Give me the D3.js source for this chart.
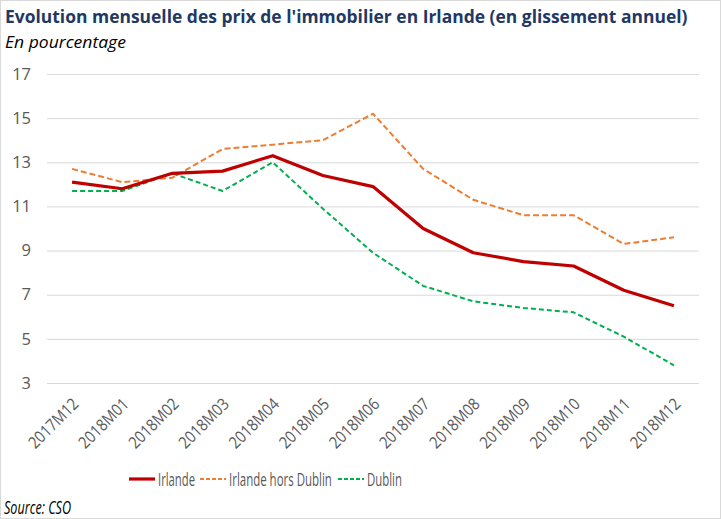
<!DOCTYPE html>
<html><head><meta charset="utf-8">
<script src="https://cdn.jsdelivr.net/npm/d3@7"></script>
<style>body{margin:0;background:#fff}svg{display:block}</style>
</head><body>
<svg id="c" width="721" height="519"></svg>
<script>
const categories = ["2017M12","2018M01","2018M02","2018M03","2018M04","2018M05","2018M06","2018M07","2018M08","2018M09","2018M10","2018M11","2018M12"];
const irlande = [12.1,11.8,12.5,12.6,13.3,12.4,11.9,10.0,8.9,8.5,8.3,7.2,6.5];
const horsDublin = [12.7,12.1,12.3,13.6,13.8,14.0,15.2,12.7,11.3,10.6,10.6,9.3,9.6];
const dublin = [11.7,11.7,12.5,11.7,13.0,10.9,8.9,7.4,6.7,6.4,6.2,5.1,3.8];
const yTicks = [3,5,7,9,11,13,15,17];
const seriesNames = ["Irlande","Irlande hors Dublin","Dublin"];

const svg = d3.select("#c");
const F = "'Open Sans', sans-serif";
svg.append("rect").attr("x",0.5).attr("y",0.5).attr("width",720).attr("height",518)
  .attr("fill","#fff").attr("stroke","#d9d9d9");

// place start-anchored text at (x,y) squeezed horizontally to width w
function fitText(t, x, y, w){
  const n = t.node().getComputedTextLength();
  t.attr("x",0).attr("y",0).attr("transform",`translate(${x},${y}) scale(${w/n},1)`);
  return t;
}

fitText(svg.append("text").attr("font-family",F)
  .attr("font-weight","bold").attr("font-size",18).attr("fill","#1f3864")
  .text("Evolution mensuelle des prix de l'immobilier en Irlande (en glissement annuel)"), 5, 23, 683);
fitText(svg.append("text").attr("font-family",F)
  .attr("font-style","italic").attr("font-size",17).attr("fill","#000")
  .text("En pourcentage"), 5, 48, 121);

const x = d3.scalePoint().domain(categories).range([47,699]).padding(0.5);
const y = d3.scaleLinear().domain([3,17]).range([383,74]);

const gy = svg.append("g").attr("transform","translate(47,0)")
  .call(d3.axisLeft(y).tickValues(yTicks).tickSize(-652).tickPadding(16));
gy.select(".domain").remove();
gy.selectAll(".tick line").attr("stroke","#d9d9d9").attr("stroke-width",1);
gy.selectAll(".tick text").attr("font-family",F).attr("font-size",16.5)
  .attr("fill","#595959");

const gx = svg.append("g").attr("transform","translate(0,383)")
  .call(d3.axisBottom(x).tickSize(0).tickPadding(0));
gx.select(".domain").remove();
gx.selectAll(".tick text").attr("font-family",F).attr("font-size",16.5)
  .attr("fill","#595959").attr("text-anchor","end").attr("y",0).attr("dy","0.35em")
  .each(function(){
    const n = this.getComputedTextLength();
    d3.select(this).attr("transform",`translate(3,18) rotate(-45) scale(${63/n},1)`);
  });

const line = d3.line().x((d,i)=>x(categories[i])).y(d=>y(d));
const styles = [
  {data:irlande,color:"#c00000",w:3.2,dash:null},
  {data:horsDublin,color:"#ed7d31",w:2,dash:"6,3"},
  {data:dublin,color:"#00b050",w:2,dash:"5,3"}
];
[styles[1],styles[2],styles[0]].forEach(s=>{
  svg.append("path").attr("d",line(s.data)).attr("fill","none")
    .attr("stroke",s.color).attr("stroke-width",s.w)
    .attr("stroke-dasharray",s.dash).attr("stroke-linejoin","round");
});

const legX = [129,200,338];
const legW = [37,103,35];
const leg = svg.append("g");
seriesNames.forEach((n,i)=>{
  const s = styles[i];
  leg.append("line").attr("x1",legX[i]).attr("x2",legX[i]+26).attr("y1",479).attr("y2",479)
    .attr("stroke",s.color).attr("stroke-width",s.w).attr("stroke-dasharray",s.dash?"4,2":null);
  fitText(leg.append("text").attr("font-family",F)
    .attr("font-size",18).attr("fill","#595959").text(n), legX[i]+29, 485.5, legW[i]);
});

fitText(svg.append("text").attr("font-family",F)
  .attr("font-style","italic").attr("font-size",17.5).attr("fill","#000")
  .text("Source: CSO"), 4, 514, 67);
</script>
</body></html>
